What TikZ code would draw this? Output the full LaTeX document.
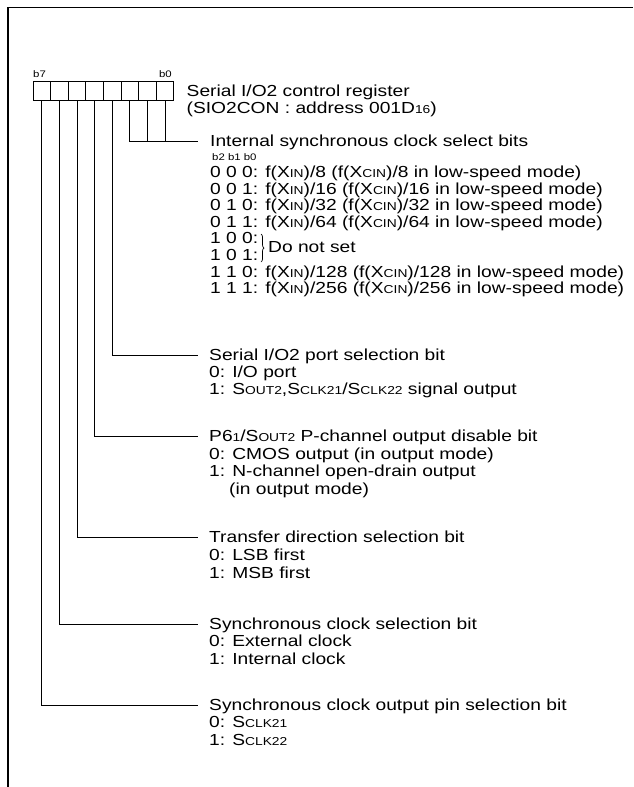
\documentclass[tikz,border=0pt]{standalone}
\usepackage{fontspec}
\setmainfont{Liberation Sans}[FakeStretch=1.2]
\usetikzlibrary{decorations.pathreplacing}
\newcommand{\sm}[1]{{\fontsize{11.5}{11.5}\selectfont #1}}
\tikzset{
  txt/.style={anchor=base west, inner sep=0pt, font=\fontsize{16}{17}\selectfont},
  tiny/.style={inner sep=0pt, font=\fontsize{9.5}{9.5}\selectfont},
  cell/.style={draw, line width=0.9pt, minimum width=17.58pt, minimum height=19pt, inner sep=0pt, anchor=north west},
  wire/.style={line width=0.9pt},
}
\begin{document}
\begin{tikzpicture}[x=1pt,y=-1pt]
\useasboundingbox (0,0) rectangle (633,787);
\draw[line width=1.8pt] (8,787) -- (8,7.5) -- (633,7.5);
% register
\foreach \i in {0,...,7} {
  \node[cell] (c\i) at ({32.7+(7-\i)*17.58},81) {};
}
\node[tiny, anchor=base west] (lb7) at (33,77) {b7};
\node[tiny, anchor=base east] (lb0) at (172,77) {b0};
\node[txt] (title1) at (186.5,96) {Serial I/O2 control register};
\node[txt] (title2) at (186.5,113) {(SIO2CON : address 001D\sm{16})};
% bits 0-2
\coordinate (e0) at (198,141);
\draw[wire] (c0.south) -- (c0.south |- e0);
\draw[wire] (c1.south) -- (c1.south |- e0);
\draw[wire] (c2.south) |- (e0);
\node[txt] (h0) at (210,146) {Internal synchronous clock select bits};
\node[tiny, anchor=base west] (bb) at (212,160) {b2 b1 b0};
\foreach \t [count=\k from 0] in {
  {0 0 0: f(X\sm{IN})/8 (f(X\sm{CIN})/8 in low-speed mode)},
  {0 0 1: f(X\sm{IN})/16 (f(X\sm{CIN})/16 in low-speed mode)},
  {0 1 0: f(X\sm{IN})/32 (f(X\sm{CIN})/32 in low-speed mode)},
  {0 1 1: f(X\sm{IN})/64 (f(X\sm{CIN})/64 in low-speed mode)},
  {1 0 0:},
  {1 0 1:},
  {1 1 0: f(X\sm{IN})/128 (f(X\sm{CIN})/128 in low-speed mode)},
  {1 1 1: f(X\sm{IN})/256 (f(X\sm{CIN})/256 in low-speed mode)}} {
  \node[txt] (l\k) at (210,{177.5+\k*16.6}) {\t};
}
\draw[line width=0.7pt, decorate, decoration={brace, amplitude=3pt}] (261,234) -- (261,262);
\node[txt] (dns) at (268,252) {Do not set};
% bit 3
\coordinate (e3) at (198,355.5);
\draw[wire] (c3.south) |- (e3);
\node[txt] (h3) at (209,360.5) {Serial I/O2 port selection bit};
\node[txt] (h3a) at (209,377.5) {0: I/O port};
\node[txt] (h3b) at (209,394.5) {1: S\sm{OUT2},S\sm{CLK21}/S\sm{CLK22} signal output};
% bit 4
\coordinate (e4) at (198,436.5);
\draw[wire] (c4.south) |- (e4);
\node[txt] (h4) at (209,441.5) {P6\sm{1}/S\sm{OUT2} P-channel output disable bit};
\node[txt] (h4a) at (209,459.5) {0: CMOS output (in output mode)};
\node[txt] (h4b) at (209,476.5) {1: N-channel open-drain output};
\node[txt] (h4c) at (229,494.5) {(in output mode)};
% bit 5
\coordinate (e5) at (198,537.5);
\draw[wire] (c5.south) |- (e5);
\node[txt] (h5) at (209,542.5) {Transfer direction selection bit};
\node[txt] (h5a) at (209,560.5) {0: LSB first};
\node[txt] (h5b) at (209,578.5) {1: MSB first};
% bit 6
\coordinate (e6) at (198,624.5);
\draw[wire] (c6.south) |- (e6);
\node[txt] (h6) at (209,629.5) {Synchronous clock selection bit};
\node[txt] (h6a) at (209,646.5) {0: External clock};
\node[txt] (h6b) at (209,664.5) {1: Internal clock};
% bit 7
\coordinate (e7) at (198,705.5);
\draw[wire] (c7.south) |- (e7);
\node[txt] (h7) at (209,710.5) {Synchronous clock output pin selection bit};
\node[txt] (h7a) at (209,727.5) {0: S\sm{CLK21}};
\node[txt] (h7b) at (209,745.5) {1: S\sm{CLK22}};
\end{tikzpicture}
\end{document}
